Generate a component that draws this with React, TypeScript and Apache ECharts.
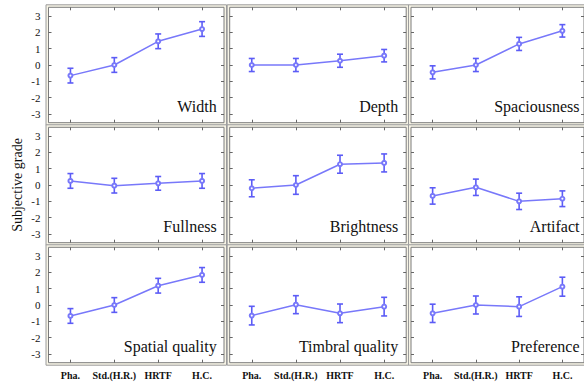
import React, { useEffect, useRef } from "react";
import * as echarts from "echarts";

const CATEGORIES = ["Pha.", "Std.(H.R.)", "HRTF", "H.C."];
const PANEL_NAMES = [
  "Width", "Depth", "Spaciousness",
  "Fullness", "Brightness", "Artifact",
  "Spatial quality", "Timbral quality", "Preference",
];
const Y_TICKS = [-3, -2, -1, 0, 1, 2, 3];

const widthMean = [-0.65, 0.0, 1.45, 2.2];
const widthErr = [0.45, 0.45, 0.45, 0.45];
const depthMean = [0.0, 0.0, 0.26, 0.57];
const depthErr = [0.4, 0.4, 0.4, 0.38];
const spaciousnessMean = [-0.45, 0.0, 1.29, 2.09];
const spaciousnessErr = [0.4, 0.4, 0.4, 0.38];
const fullnessMean = [0.25, -0.04, 0.1, 0.25];
const fullnessErr = [0.45, 0.45, 0.42, 0.45];
const brightnessMean = [-0.2, 0.0, 1.27, 1.35];
const brightnessErr = [0.52, 0.57, 0.55, 0.55];
const artifactMean = [-0.67, -0.14, -1.0, -0.84];
const artifactErr = [0.5, 0.5, 0.5, 0.48];
const spatialQualityMean = [-0.67, 0.0, 1.18, 1.84];
const spatialQualityErr = [0.45, 0.45, 0.45, 0.45];
const timbralQualityMean = [-0.65, 0.02, -0.51, -0.1];
const timbralQualityErr = [0.57, 0.55, 0.57, 0.57];
const preferenceMean = [-0.51, 0.0, -0.1, 1.12];
const preferenceErr = [0.56, 0.55, 0.6, 0.58];

const MEANS = [
  widthMean, depthMean, spaciousnessMean,
  fullnessMean, brightnessMean, artifactMean,
  spatialQualityMean, timbralQualityMean, preferenceMean,
];
const ERRS = [
  widthErr, depthErr, spaciousnessErr,
  fullnessErr, brightnessErr, artifactErr,
  spatialQualityErr, timbralQualityErr, preferenceErr,
];

const COL_LEFT = [48.5, 229.7, 411];
const COL_WIDTH = [175.5, 176.5, 173];
const ROW_TOP = [7.3, 127.3, 247.3];
const ROW_HEIGHT = 115.4;
const TITLE_RIGHT = [216.7, 398.3, 579.5];

const LINE_COLOR = "#7878fa";
const BAR_COLOR = "#5c5cf6";
const SERIF = "serif";

export default function App() {
  const ref = useRef<HTMLDivElement>(null);

  useEffect(() => {
    if (!ref.current) return;
    const chart = echarts.init(ref.current, null, { renderer: "svg" });

    const grids: any[] = [];
    const xAxes: any[] = [];
    const yAxes: any[] = [];
    const series: any[] = [];
    const graphics: any[] = [];

    for (let i = 0; i < 9; i++) {
      const r = Math.floor(i / 3);
      const c = i % 3;
      const left = COL_LEFT[c];
      const top = ROW_TOP[r];
      const w = COL_WIDTH[c];
      grids.push({
        left,
        top,
        width: w,
        height: ROW_HEIGHT,
        show: true,
        backgroundColor: "#ffffff",
        borderColor: "#7c7c7c",
        borderWidth: 1,
        containLabel: false,
      });
      graphics.push({
        type: "rect",
        z: -10,
        shape: { x: left - 2.5, y: top - 2.5, width: w + 5, height: ROW_HEIGHT + 5 },
        style: { fill: "#f7f4e6", stroke: "#9c9c9c", lineWidth: 1 },
      });
      graphics.push({
        type: "text",
        x: TITLE_RIGHT[c],
        y: top + 107,
        style: {
          text: PANEL_NAMES[i],
          align: "right",
          verticalAlign: "bottom",
          fontSize: 16,
          fontFamily: SERIF,
          fill: "#111111",
        },
      });

      const xBase = {
        type: "category",
        data: CATEGORIES,
        gridIndex: i,
        boundaryGap: true,
        axisLine: { show: false, onZero: false },
        axisTick: {
          show: true,
          inside: true,
          length: 3,
          interval: 0,
          alignWithLabel: true,
          lineStyle: { color: "#666" },
        },
        splitLine: { show: false },
      };
      xAxes.push({
        ...xBase,
        position: "bottom",
        axisLabel: {
          show: r === 2,
          interval: 0,
          margin: 8,
          fontSize: 10,
          fontWeight: "bold",
          fontFamily: SERIF,
          color: "#111",
        },
      });
      xAxes.push({ ...xBase, position: "top", axisLabel: { show: false } });

      const yBase = {
        type: "value",
        gridIndex: i,
        min: -3.53,
        max: 3.53,
        axisLine: { show: false, onZero: false },
        splitLine: { show: false },
        axisTick: {
          show: true,
          inside: true,
          length: 3,
          customValues: Y_TICKS,
          lineStyle: { color: "#666" },
        },
      };
      yAxes.push({
        ...yBase,
        position: "left",
        axisLabel: {
          show: c === 0,
          customValues: Y_TICKS,
          margin: 8,
          fontSize: 11,
          fontFamily: SERIF,
          color: "#111",
        },
      });
      yAxes.push({ ...yBase, position: "right", axisLabel: { show: false } });

      const mean = MEANS[i];
      const err = ERRS[i];
      series.push({
        type: "custom",
        xAxisIndex: 2 * i,
        yAxisIndex: 2 * i,
        data: mean.map((m, k) => [k, m - err[k], m + err[k]]),
        renderItem: (params: any, api: any) => {
          const x = api.value(0);
          const lo = api.coord([x, api.value(1)]);
          const hi = api.coord([x, api.value(2)]);
          const half = 3;
          const st = { stroke: BAR_COLOR, lineWidth: 1.6 };
          return {
            type: "group",
            children: [
              { type: "line", shape: { x1: lo[0], y1: lo[1], x2: hi[0], y2: hi[1] }, style: st },
              { type: "line", shape: { x1: lo[0] - half, y1: lo[1], x2: lo[0] + half, y2: lo[1] }, style: st },
              { type: "line", shape: { x1: hi[0] - half, y1: hi[1], x2: hi[0] + half, y2: hi[1] }, style: st },
            ],
          };
        },
        z: 2,
      });
      series.push({
        type: "line",
        xAxisIndex: 2 * i,
        yAxisIndex: 2 * i,
        data: mean,
        symbol: "emptyCircle",
        symbolSize: 4,
        lineStyle: { color: LINE_COLOR, width: 1.5 },
        itemStyle: { color: LINE_COLOR, borderWidth: 1 },
        z: 3,
      });
    }

    graphics.push({
      type: "text",
      x: 17,
      y: 185,
      rotation: Math.PI / 2,
      style: {
        text: "Subjective grade",
        align: "center",
        verticalAlign: "middle",
        fontSize: 14,
        fontFamily: SERIF,
        fill: "#111",
      },
    });

    chart.setOption({
      animation: false,
      backgroundColor: "#ffffff",
      grid: grids,
      xAxis: xAxes,
      yAxis: yAxes,
      series,
      graphic: graphics,
    });

    return () => chart.dispose();
  }, []);

  return (
    <div
      ref={ref}
      style={{ position: "fixed", left: 0, top: 0, width: 584, height: 385 }}
    />
  );
}
